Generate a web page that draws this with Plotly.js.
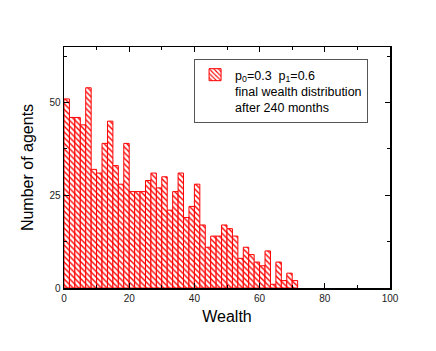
<html>
<head>
    <script src="https://cdn.plot.ly/plotly-3.0.1.min.js"></script>
    <style>
        body { margin: 0; padding: 0; background: white; }
        #chart { width: 436px; height: 351px; }
    </style>
</head>
<body>
<div id="chart"></div>
<script>
    // agents per wealth bin (60 bins over 0..100, only the first 43 are filled)
    const binWidth = 100 / 60;
    const counts = [51, 46, 46, 44, 54, 32, 31, 39, 45, 33,
                    28, 39, 26, 26, 26, 29, 31, 27, 30, 21,
                    26, 31, 19, 22, 28, 17, 11, 14, 14, 17,
                    16, 14, 8, 11, 9, 7, 6, 10, 1, 7,
                    2, 4, 2];
    const xTicks = [0, 20, 40, 60, 80, 100];
    const yTicks = [0, 25, 50];
    const legendName = 'p<sub>0</sub>=0.3  p<sub>1</sub>=0.6<br>final wealth distribution<br>after 240 months';

    const centers = counts.map((c, i) => (i + 0.5) * binWidth);

    const trace = {
        type: 'bar',
        x: centers,
        y: counts,
        width: binWidth,
        name: legendName,
        showlegend: true,
        marker: {
            color: 'white',
            line: { color: 'red', width: 1 },
            pattern: {
                shape: '\\',
                fillmode: 'replace',
                fgcolor: 'red',
                bgcolor: 'white',
                size: 4,
                solidity: 0.35
            }
        }
    };

    const axisCommon = {
        showline: true,
        linecolor: 'black',
        linewidth: 1.5,
        mirror: 'ticks',
        ticks: 'inside',
        ticklen: 5,
        tickcolor: 'black',
        showgrid: false,
        zeroline: false,
        tickfont: { size: 10, color: '#222' }
    };

    const layout = {
        width: 436,
        height: 351,
        margin: { l: 64, r: 46, t: 47, b: 63 },
        paper_bgcolor: 'white',
        plot_bgcolor: 'white',
        font: { family: 'Liberation Sans, Arial, sans-serif', color: 'black' },
        bargap: 0,
        xaxis: Object.assign({}, axisCommon, {
            range: [0, 100],
            tickvals: xTicks,
            minor: { dtick: 10, ticks: 'inside', ticklen: 3, tickcolor: 'black' },
            title: { text: 'Wealth', font: { size: 16 }, standoff: 8 }
        }),
        yaxis: Object.assign({}, axisCommon, {
            range: [0, 65],
            tickvals: yTicks,
            minor: { dtick: 12.5, ticks: 'inside', ticklen: 3, tickcolor: 'black' },
            title: { text: 'Number of agents', font: { size: 16 }, standoff: 12 }
        }),
        legend: {
            x: 0.399,
            y: 0.95,
            xanchor: 'left',
            yanchor: 'top',
            valign: 'top',
            bordercolor: '#555',
            borderwidth: 1,
            bgcolor: 'white',
            font: { size: 12.5 }
        }
    };

    Plotly.newPlot('chart', [trace], layout, { displayModeBar: false, staticPlot: true });
</script>
</body>
</html>
